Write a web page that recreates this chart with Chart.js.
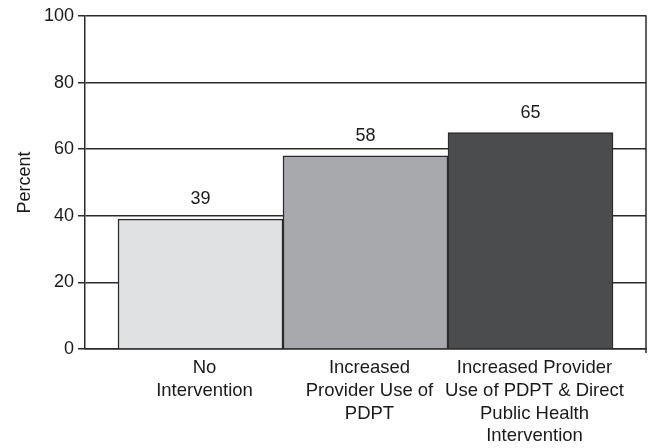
<!DOCTYPE html>
<html>
<head>
<meta charset="utf-8">
<script src="https://cdn.jsdelivr.net/npm/chart.js@4/dist/chart.umd.min.js"></script>
<style>
  html, body { margin: 0; padding: 0; background: #fff; }
  #wrap { width: 652px; height: 448px; position: relative; }
</style>
</head>
<body>
<div id="wrap"><canvas id="chart"></canvas></div>
<script>
// ===== 数据 =====
var categories = [
  ['No', 'Intervention'],
  ['Increased', 'Provider Use of', 'PDPT'],
  ['Increased Provider', 'Use of PDPT & Direct', 'Public Health', 'Intervention']
];
var percentValues = [39, 58, 65];
var yTicks = [0, 20, 40, 60, 80, 100];
var barColors = ['#e0e1e3', '#a8a9ac', '#4b4c4e'];

var INK = '#2b2b2b';
var FONT = '"Liberation Sans", Arial, sans-serif';

// 数值标签 + 右边框
var extras = {
  id: 'extras',
  afterDatasetsDraw: function(chart) {
    var ctx = chart.ctx;
    var area = chart.chartArea;
    ctx.save();
    ctx.strokeStyle = INK;
    ctx.lineWidth = 1.5;
    ctx.beginPath();
    ctx.moveTo(area.right, area.top - 0.75);
    ctx.lineTo(area.right, area.bottom + 4);
    ctx.stroke();

    ctx.fillStyle = '#1a1a1a';
    ctx.font = '18px ' + FONT;
    ctx.textAlign = 'center';
    ctx.textBaseline = 'bottom';
    chart.getDatasetMeta(0).data.forEach(function(bar, i) {
      ctx.fillText(String(percentValues[i]), bar.x, bar.y - 11);
    });
    ctx.restore();
  }
};

new Chart(document.getElementById('chart'), {
  type: 'bar',
  data: {
    datasets: [{
      data: percentValues.map(function(v, i) { return { x: i, y: v }; }),
      backgroundColor: barColors,
      borderColor: INK,
      borderWidth: 1.5,
      barPercentage: 1,
      categoryPercentage: 1
    }]
  },
  options: {
    responsive: true,
    maintainAspectRatio: false,
    animation: false,
    layout: { padding: { left: 0, right: 6, top: 16, bottom: 0 } },
    plugins: {
      legend: { display: false },
      tooltip: { enabled: false }
    },
    scales: {
      x: {
        type: 'linear',
        offset: false,
        min: -0.7,
        max: 2.7,
        afterBuildTicks: function(scale) {
          scale.ticks = categories.map(function(c, i) { return { value: i }; });
        },
        afterFit: function(scale) { scale.height = 99; },
        grid: { display: false, offset: false },
        border: { display: true, color: INK, width: 1.5 },
        ticks: {
          autoSkip: false,
          maxRotation: 0,
          padding: 0,
          labelOffset: 4,
          color: '#1a1a1a',
          font: { family: FONT, size: 18.5, lineHeight: 1.22 },
          callback: function(v, i) { return categories[i]; }
        }
      },
      y: {
        min: 0,
        max: 100,
        afterBuildTicks: function(scale) {
          scale.ticks = yTicks.map(function(v) { return { value: v }; });
        },
        afterFit: function(scale) { scale.width = 85; },
        grid: { color: INK, lineWidth: 1.5, tickLength: 7, drawTicks: true },
        border: { display: true, color: INK, width: 1.5 },
        ticks: {
          padding: 4,
          color: '#1a1a1a',
          font: { family: FONT, size: 18 }
        },
        title: {
          display: true,
          text: 'Percent',
          color: '#1a1a1a',
          padding: { top: 14, bottom: 0 },
          font: { family: FONT, size: 18 }
        }
      }
    }
  },
  plugins: [extras]
});
</script>
</body>
</html>
